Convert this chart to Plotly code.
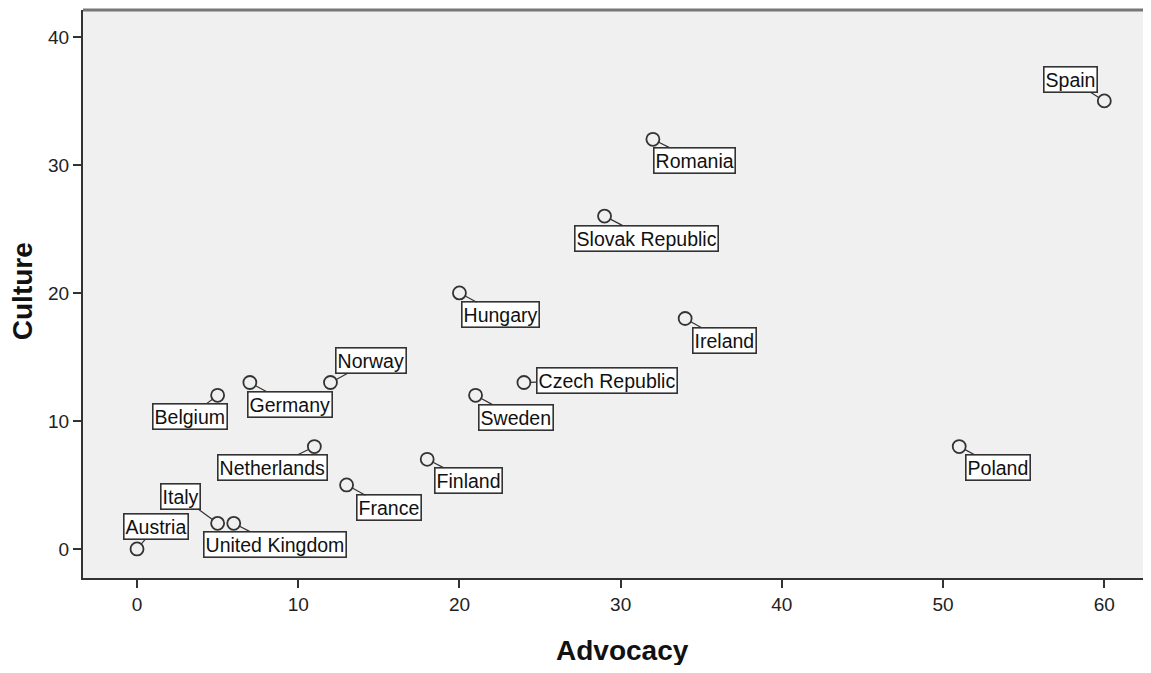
import plotly.graph_objects as go

countries = ["Spain", "Romania", "Slovak Republic", "Hungary", "Ireland", "Norway",
             "Germany", "Czech Republic", "Belgium", "Sweden", "Netherlands", "Poland",
             "Finland", "France", "Italy", "United Kingdom", "Austria"]
advocacy = [60, 32, 29, 20, 34, 12, 7, 24, 5, 21, 11, 51, 18, 13, 5, 6, 0]
culture = [35, 32, 26, 20, 18, 13, 13, 13, 12, 12, 8, 8, 7, 5, 2, 2, 0]
# label offsets (pixels) of each label box relative to its point
label_dx = [-34, 42, 42, 41, 39, 41, 40, 83, -28, 40, -42, 39, 41, 42, -37, 41, 19]
label_dy = [-21, 21, 22, 22, 22, -22, 22, -2, 21, 22, 21, 21, 21, 23, -27, 21, -22]

LABEL_FONT = "Liberation Sans, Arial"

fig = go.Figure()
fig.add_trace(go.Scatter(
    x=advocacy, y=culture, mode="markers",
    marker=dict(symbol="circle-open", size=13, color="#333333", line=dict(width=1.8)),
    hoverinfo="text", text=countries, showlegend=False,
))

for name, xv, yv, dx, dy in zip(countries, advocacy, culture, label_dx, label_dy):
    fig.add_annotation(
        x=xv, y=yv, xref="x", yref="y", text=name,
        showarrow=True, arrowhead=0, arrowwidth=1.2, arrowcolor="#333333",
        ax=dx, ay=dy, standoff=6,
        font=dict(family=LABEL_FONT, size=19.5, color="#111111"),
        bgcolor="white", bordercolor="#333333", borderwidth=1.6, borderpad=1,
    )

axis_font = dict(family="Liberation Sans, Arial", size=19, color="#222222")
fig.update_layout(
    width=1135, height=657,
    margin=dict(l=75, r=0, t=2, b=87),
    paper_bgcolor="white", plot_bgcolor="#f0f0f0",
    xaxis=dict(
        range=[-3.35, 62.4], tickvals=[0, 10, 20, 30, 40, 50, 60],
        ticks="outside", ticklen=8, tickwidth=2, tickcolor="#333333",
        showgrid=False, zeroline=False, showline=True, linecolor="#333333", linewidth=2,
        tickfont=axis_font, automargin=False,
    ),
    yaxis=dict(
        range=[-2.27, 42.1], tickvals=[0, 10, 20, 30, 40],
        ticks="outside", ticklen=8, tickwidth=2, tickcolor="#333333",
        showgrid=False, zeroline=False, showline=True, linecolor="#333333", linewidth=2,
        tickfont=axis_font, automargin=False,
    ),
)
# axis titles
fig.add_annotation(text="<b>Advocacy</b>", xref="paper", yref="paper", x=0.5085, y=-0.1285,
                   xanchor="center", yanchor="middle", showarrow=False,
                   font=dict(family=LABEL_FONT, size=28, color="#111111"))
fig.add_annotation(text="<b>Culture</b>", xref="paper", yref="paper", x=-0.0575, y=0.505,
                   xanchor="center", yanchor="middle", showarrow=False, textangle=-90,
                   font=dict(family=LABEL_FONT, size=28, color="#111111"))
# top border of the plot frame
fig.add_shape(type="line", xref="paper", yref="paper", x0=0, x1=1, y0=1, y1=1,
              line=dict(color="#777777", width=3))

fig.write_html("out.html")
